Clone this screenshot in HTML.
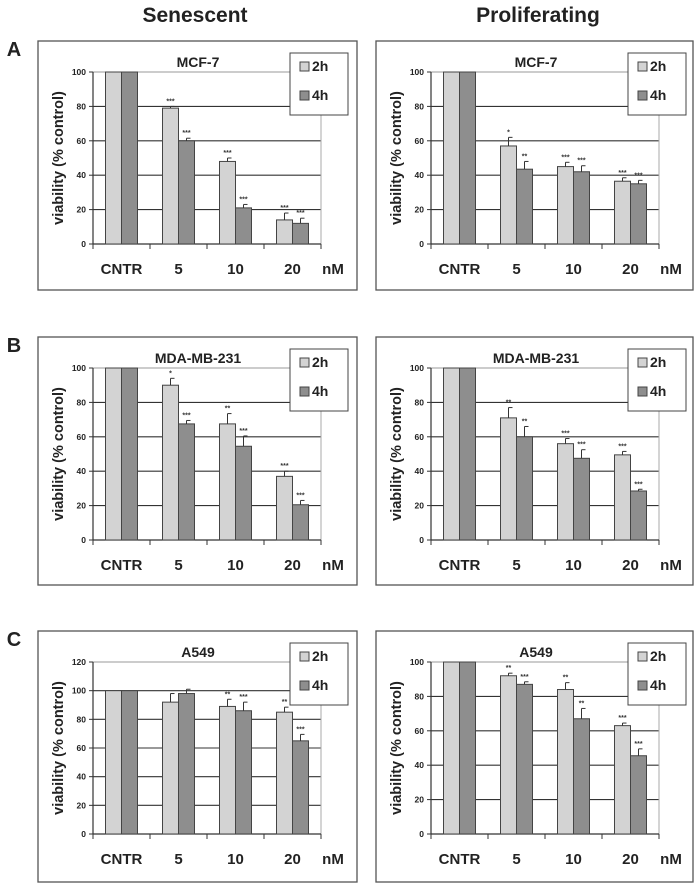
<!DOCTYPE html>
<html><head><meta charset="utf-8">
<style>
body{margin:0;background:#fff;}
svg{display:block;font-family:"Liberation Sans",Arial,sans-serif;font-weight:bold;}
</style></head>
<body>
<svg id="fig" width="700" height="888" viewBox="0 0 700 888">
<text x="195" y="22" font-size="21" text-anchor="middle" fill="#222">Senescent</text>
<text x="538" y="22" font-size="21" text-anchor="middle" fill="#222">Proliferating</text>
<text x="14" y="56" font-size="20" text-anchor="middle" fill="#222">A</text>
<text x="14" y="352" font-size="20" text-anchor="middle" fill="#222">B</text>
<text x="14" y="646" font-size="20" text-anchor="middle" fill="#222">C</text>
</svg>
<script>
const categories = ["CNTR","5","10","20"];
const seriesNames = ["2h","4h"];
// A left
const aL2h = [100,79,48,14], aL2hErr = [0,1,2,4], aL4h = [100,60,21,12], aL4hErr = [0,1.5,2,3];
const aL2hSig = ["","***","***","***"], aL4hSig = ["","***","***","***"];
// A right
const aR2h = [100,57,45,36.5], aR2hErr = [0,5,2.5,2], aR4h = [100,43.5,42,35], aR4hErr = [0,4.5,3.5,2];
const aR2hSig = ["","*","***","***"], aR4hSig = ["","**","***","***"];
// B left
const bL2h = [100,90,67.5,37], bL2hErr = [0,4,6,3], bL4h = [100,67.5,54.5,20.5], bL4hErr = [0,2,6,2.5];
const bL2hSig = ["","*","**","***"], bL4hSig = ["","***","***","***"];
// B right
const bR2h = [100,71,56,49.5], bR2hErr = [0,6,3,2], bR4h = [100,60,47.5,28.5], bR4hErr = [0,6,5,1];
const bR2hSig = ["","**","***","***"], bR4hSig = ["","**","***","***"];
// C left
const cL2h = [100,92,89,85], cL2hErr = [0,6,5,3.5], cL4h = [100,98,86,65], cL4hErr = [0,3,6,4.5];
const cL2hSig = ["","","**","**"], cL4hSig = ["","","***","***"];
// C right
const cR2h = [100,92,84,63], cR2hErr = [0,1.5,4,1.5], cR4h = [100,87,67,45.5], cR4hErr = [0,1.5,6,4];
const cR2hSig = ["","**","**","***"], cR4hSig = ["","***","**","***"];
const ticks100 = [0,20,40,60,80,100];
const ticks120 = [0,20,40,60,80,100,120];

const NS="http://www.w3.org/2000/svg";
const svg=document.getElementById('fig');
function mk(tag,attrs,parent,text){const e=document.createElementNS(NS,tag);for(const k in attrs)e.setAttribute(k,attrs[k]);if(text!==undefined)e.textContent=text;(parent||svg).appendChild(e);return e;}

function chart(id,bx,by,bw,bh,title,ticks,s2,e2,g2,s4,e4,g4){
  const g=mk('g',{});
  
  
  const box=mk('rect',{x:bx,y:by,width:bw,height:bh,fill:'#fff',stroke:'#555','stroke-width':1.3},g);
  
  
  const px0=bx+55, px1=bx+283, py0=by+203, py1=by+31;
  const ymax=ticks[ticks.length-1];
  const Y=v=>py0-(v/ymax)*(py0-py1);
  const gw=(px1-px0)/categories.length;
  const X=i=>px0+gw*(i+0.5);
  // gridlines
  ticks.forEach((t,i)=>{
    if(t===0)return;
    const l=mk('line',{x1:px0,x2:px1,y1:Y(t),y2:Y(t),stroke:i===ticks.length-1?'#999':'#333','stroke-width':1.1},g);
    
    
  });
  mk('line',{x1:px1,x2:px1,y1:py1,y2:py0,stroke:'#aaa','stroke-width':1},g);
  // y axis
  mk('line',{x1:px0,x2:px0,y1:py1,y2:py0,stroke:'#333','stroke-width':1.2},g);
  ticks.forEach(t=>{
    mk('line',{x1:px0-4,x2:px0,y1:Y(t),y2:Y(t),stroke:'#333'},g);
    const tl=mk('text',{x:px0-7,y:Y(t)+3,'font-size':8.5,'text-anchor':'end',fill:'#222'},g,String(t));
    
    
  });
  // x axis
  mk('line',{x1:px0,x2:px1,y1:py0,y2:py0,stroke:'#333','stroke-width':1.2},g);
  for(let i=0;i<=categories.length;i++) mk('line',{x1:px0+gw*i,x2:px0+gw*i,y1:py0,y2:py0+5,stroke:'#333'},g);
  // bars
  const bw2=16;
  [[s2,e2,g2,'#d3d3d3',-1],[s4,e4,g4,'#8e8e8e',0]].forEach(([vals,errs,sig,col,off],si)=>{
    vals.forEach((v,i)=>{
      const x=X(i)+off*bw2;
      const r=mk('rect',{x:x,y:Y(v),width:bw2,height:py0-Y(v),fill:col,stroke:'#444','stroke-width':1},g);
      
      
      if(errs[i]>0){
        const cx=x+bw2/2;
        mk('line',{x1:cx,x2:cx,y1:Y(v),y2:Y(v+errs[i]),stroke:'#333'},g);
        mk('line',{x1:cx,x2:cx+4,y1:Y(v+errs[i]),y2:Y(v+errs[i]),stroke:'#333'},g);
      }
      if(sig[i]){
        const st=mk('text',{x:x+bw2/2,y:Y(v+errs[i])-3,'font-size':7,'text-anchor':'middle',fill:'#333'},g,sig[i]);
        
        
      }
    });
  });
  // category labels
  categories.forEach((c,i)=>{
    const t=mk('text',{x:X(i),y:by+233,'font-size':15,'text-anchor':'middle',fill:'#222'},g,c);
    
    
  });
  const nm=mk('text',{x:px1+12,y:by+233,'font-size':15,'text-anchor':'middle',fill:'#222'},g,'nM');
  
  
  // title
  const tt=mk('text',{x:bx+160,y:by+26,'font-size':14,'text-anchor':'middle',fill:'#222'},g,title);
  
  
  // y title
  const yt=mk('text',{x:0,y:0,'font-size':14.5,'text-anchor':'middle',fill:'#222',transform:`translate(${bx+25},${(py0+py1)/2}) rotate(-90)`},g,'viability (% control)');
  
  
  // legend
  const lg=mk('g',{},g);
  
  
  mk('rect',{x:bx+252,y:by+12,width:58,height:62,fill:'#fff',stroke:'#444','stroke-width':1},lg);
  [['#d3d3d3','2h',by+30],['#8e8e8e','4h',by+59]].forEach(([c,l,yy])=>{
    const e=mk('g',{},lg);
    
    
    mk('rect',{x:bx+262,y:yy-9,width:9,height:9,fill:c,stroke:'#444'},e);
    mk('text',{x:bx+274,y:yy,'font-size':14,fill:'#222'},e,l);
  });
}
chart('chart-a-senescent',38,41,319,249,'MCF-7',ticks100,aL2h,aL2hErr,aL2hSig,aL4h,aL4hErr,aL4hSig);
chart('chart-a-proliferating',376,41,317,249,'MCF-7',ticks100,aR2h,aR2hErr,aR2hSig,aR4h,aR4hErr,aR4hSig);
chart('chart-b-senescent',38,337,319,248,'MDA-MB-231',ticks100,bL2h,bL2hErr,bL2hSig,bL4h,bL4hErr,bL4hSig);
chart('chart-b-proliferating',376,337,317,248,'MDA-MB-231',ticks100,bR2h,bR2hErr,bR2hSig,bR4h,bR4hErr,bR4hSig);
chart('chart-c-senescent',38,631,319,251,'A549',ticks120,cL2h,cL2hErr,cL2hSig,cL4h,cL4hErr,cL4hSig);
chart('chart-c-proliferating',376,631,317,251,'A549',ticks100,cR2h,cR2hErr,cR2hSig,cR4h,cR4hErr,cR4hSig);
</script>
</body></html>
